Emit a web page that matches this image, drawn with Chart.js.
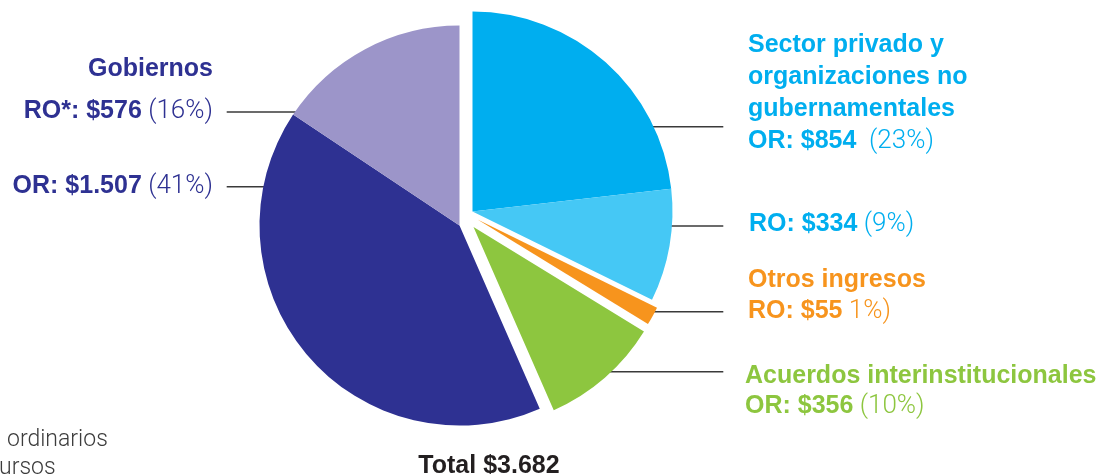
<!DOCTYPE html>
<html>
<head>
<meta charset="utf-8">
<script src="https://cdn.jsdelivr.net/npm/chart.js@4"></script>
<style>
  html, body { margin: 0; padding: 0; background: #fff; }
  #wrap { position: relative; width: 1098px; height: 474px; overflow: hidden; background: #fff; }
  #c { position: absolute; left: 0; top: 0; }
  .lb { position: absolute; white-space: nowrap; font-family: "Liberation Sans", Arial, sans-serif; font-weight: bold; font-size: 25px; line-height: 25px; }
  .lb .p { font-family: Roboto, "Liberation Sans", sans-serif; font-weight: 300; font-size: 26px; }
  .r { text-align: right; }
  .navy { color: #2e3192; }
  .cyan { color: #00aeef; }
  .orange { color: #f7941d; }
  .green { color: #8dc63f; }
  .note { position: absolute; white-space: nowrap; font-family: Roboto, sans-serif; font-weight: 300; font-size: 23px; line-height: 23px; color: #3c3c3c; }
</style>
</head>
<body>
<div id="wrap">
  <canvas id="c" width="1098" height="474"></canvas>

  <div class="lb navy r" style="right:885px; top:55px;">Gobiernos</div>
  <div class="lb navy r" style="right:885px; top:97px;">RO*: $576<span class="p"> (16%)</span></div>
  <div class="lb navy r" style="right:885px; top:172px;">OR: $1.507<span class="p"> (41%)</span></div>

  <div class="lb cyan" style="left:748px; top:31px;">Sector privado y</div>
  <div class="lb cyan" style="left:748px; top:63px;">organizaciones no</div>
  <div class="lb cyan" style="left:748px; top:95px;">gubernamentales</div>
  <div class="lb cyan" style="left:748px; top:127px;">OR: $854<span class="p">&nbsp; (23%)</span></div>

  <div class="lb cyan" style="left:749px; top:210px;">RO: $334<span class="p"> (9%)</span></div>

  <div class="lb orange" style="left:748px; top:266px;">Otros ingresos</div>
  <div class="lb orange" style="left:748px; top:297px;">RO: $55<span class="p"> 1%)</span></div>

  <div class="lb green" style="left:745px; top:362px;">Acuerdos interinstitucionales</div>
  <div class="lb green" style="left:745px; top:392px;">OR: $356<span class="p"> (10%)</span></div>

  <div class="lb" style="left:389px; width:200px; text-align:center; top:452px; color:#231f20;">Total $3.682</div>

  <div class="note" style="left:7px; top:427px;">ordinarios</div>
  <div class="note" style="left:-1px; top:455px;">ursos</div>
</div>

<script>
// ---- data ----
const categories = [
  'Sector privado y organizaciones no gubernamentales – OR',
  'Sector privado y organizaciones no gubernamentales – RO',
  'Otros ingresos – RO',
  'Acuerdos interinstitucionales – OR',
  'Gobiernos – OR',
  'Gobiernos – RO'
];
const values = [854, 334, 55, 356, 1507, 576];

// ---- styles ----
const sliceColors = ['#00aeef', '#45c8f5', '#f7941d', '#8dc63f', '#2e3192', '#9c95c9'];
// explode shift of each slice (px)
const shiftX = [13, 13, 18, 14, 0, 0];
const shiftY = [-14, -14, -6, 1.5, 0, 0];

// leader lines: y position, slice index, side, outer end x
const leaderY     = [112, 186.7, 126.7, 226, 311.7, 371.7];
const leaderSlice = [5, 4, 0, 1, 2, 3];
const leaderSide  = [-1, -1, 1, 1, 1, 1];
const leaderEndX  = [226.7, 226.7, 723.3, 723.3, 723.3, 723.3];

const explodePlugin = {
  id: 'explodeDraw',
  beforeDatasetsDraw(chart) {
    const meta = chart.getDatasetMeta(0);
    const ctx = chart.ctx;
    // leader lines (drawn below slices)
    ctx.save();
    ctx.strokeStyle = '#3a3a3a';
    ctx.lineWidth = 1.5;
    leaderY.forEach((y, k) => {
      const i = leaderSlice[k];
      const arc = meta.data[i];
      const cx = arc.x + shiftX[i];
      const cy = arc.y + shiftY[i];
      const r = arc.outerRadius;
      const d = Math.sqrt(Math.max(r * r - (y - cy) * (y - cy), 0));
      const xEdge = cx + leaderSide[k] * (d - 3);
      ctx.beginPath();
      ctx.moveTo(leaderEndX[k], y);
      ctx.lineTo(xEdge, y);
      ctx.stroke();
    });
    ctx.restore();
    // slices with their explode shifts
    meta.data.forEach((arc, i) => {
      ctx.save();
      ctx.translate(shiftX[i], shiftY[i]);
      arc.draw(ctx, chart.chartArea);
      ctx.restore();
    });
    return false;
  }
};

new Chart(document.getElementById('c'), {
  type: 'pie',
  data: {
    labels: categories,
    datasets: [{
      data: values,
      backgroundColor: sliceColors,
      borderWidth: 0
    }]
  },
  options: {
    responsive: false,
    animation: false,
    layout: { padding: { left: 259.5, right: 438.5, top: 25.5, bottom: 48.5 } },
    plugins: {
      legend: { display: false },
      tooltip: { enabled: false }
    }
  },
  plugins: [explodePlugin]
});
</script>
</body>
</html>
